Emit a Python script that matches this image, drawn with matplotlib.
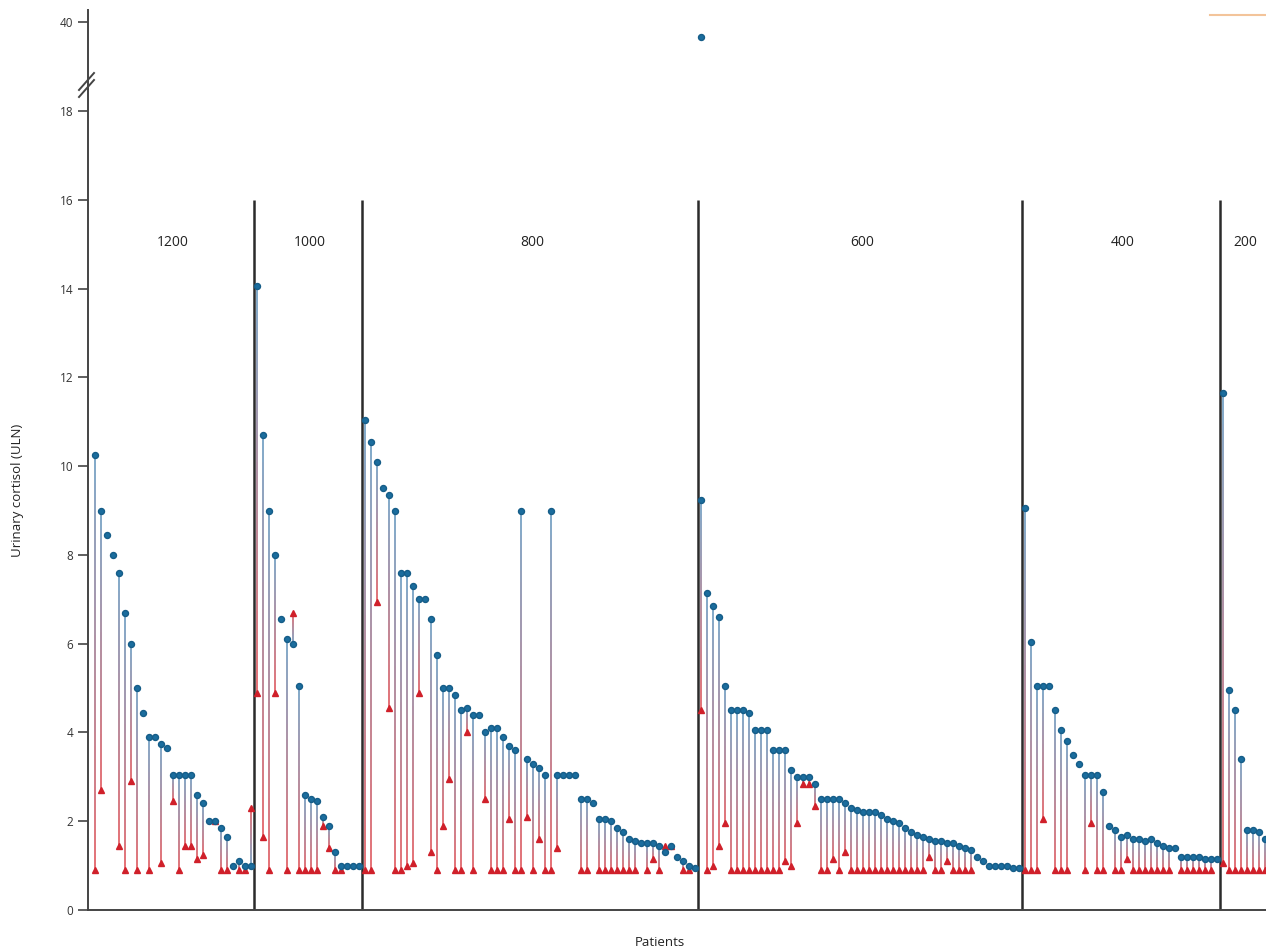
import numpy as np
import matplotlib
matplotlib.use("Agg")
import matplotlib.pyplot as plt
from matplotlib.collections import LineCollection
from matplotlib.colors import to_rgb
from matplotlib.lines import Line2D

nan = np.nan

# dose groups (left to right) and values per patient: baseline (blue) and follow-up (red)
groups = ["1200", "1000", "800", "600", "400", "200"]

base_1200 = [10.25, 9.0, 8.45, 8.0, 7.6, 6.7, 6.0, 5.0, 4.45, 3.9, 3.9, 3.75, 3.65, 3.05, 3.05, 3.05, 3.05,
             2.6, 2.4, 2.0, 2.0, 1.85, 1.65, 1.0, 1.1, 1.0, 1.0]
foll_1200 = [0.9, 2.7, nan, nan, 1.45, 0.9, 2.9, 0.9, nan, 0.9, nan, 1.05, nan, 2.45, 0.9, 1.45, 1.45,
             1.15, 1.25, nan, 2.0, 0.9, 0.9, nan, 0.9, 0.9, 2.3]

base_1000 = [14.05, 10.7, 9.0, 8.0, 6.55, 6.1, 6.0, 5.05, 2.6, 2.5, 2.45, 2.1, 1.9, 1.3, 1.0, 1.0, 1.0, 1.0]
foll_1000 = [4.9, 1.65, 0.9, 4.9, nan, 0.9, 6.7, 0.9, 0.9, 0.9, 0.9, 1.9, 1.4, 0.9, 0.9, nan, nan, nan]

base_800 = [11.05, 10.55, 10.1, 9.5, 9.35, 9.0, 7.6, 7.6, 7.3, 7.0, 7.0, 6.55, 5.75, 5.0, 5.0, 4.85,
            4.5, 4.55, 4.4, 4.4, 4.0, 4.1, 4.1, 3.9, 3.7, 3.6, 9.0, 3.4, 3.3, 3.2, 3.05, 9.0, 3.05,
            3.05, 3.05, 3.05, 2.5, 2.5, 2.4, 2.05, 2.05, 2.0, 1.85, 1.75, 1.6, 1.55, 1.5, 1.5, 1.5,
            1.45, 1.3, 1.45, 1.2, 1.1, 1.0, 0.95]
foll_800 = [0.9, 0.9, 6.95, nan, 4.55, 0.9, 0.9, 1.0, 1.05, 4.9, nan, 1.3, 0.9, 1.9, 2.95, 0.9,
            0.9, 4.0, 0.9, nan, 2.5, 0.9, 0.9, 0.9, 2.05, 0.9, 0.9, 2.1, 0.9, 1.6, 0.9, 0.9, 1.4,
            nan, nan, nan, 0.9, 0.9, nan, 0.9, 0.9, 0.9, 0.9, 0.9, 0.9, 0.9, nan, 0.9, 1.15,
            0.9, 1.45, 1.45, nan, 0.9, 0.9, nan]

base_600 = [9.25, 7.15, 6.85, 6.6, 5.05, 4.5, 4.5, 4.5, 4.45, 4.05, 4.05, 4.05, 3.6, 3.6, 3.6, 3.15,
            3.0, 3.0, 3.0, 2.85, 2.5, 2.5, 2.5, 2.5, 2.4, 2.3, 2.25, 2.2, 2.2, 2.2, 2.15, 2.05, 2.0,
            1.95, 1.85, 1.75, 1.7, 1.65, 1.6, 1.55, 1.55, 1.5, 1.5, 1.45, 1.4, 1.35, 1.2, 1.1, 1.0,
            1.0, 1.0, 1.0, 0.95, 0.95]
foll_600 = [4.5, 0.9, 1.0, 1.45, 1.95, 0.9, 0.9, 0.9, 0.9, 0.9, 0.9, 0.9, 0.9, 0.9, 1.1, 1.0,
            1.95, 2.85, 2.85, 2.35, 0.9, 0.9, 1.15, 0.9, 1.3, 0.9, 0.9, 0.9, 0.9, 0.9, 0.9, 0.9, 0.9,
            0.9, 0.9, 0.9, 0.9, 0.9, 1.2, 0.9, 0.9, 1.1, 0.9, 0.9, 0.9, 0.9, nan, nan, nan,
            nan, nan, nan, nan, nan]

base_400 = [9.05, 6.05, 5.05, 5.05, 5.05, 4.5, 4.05, 3.8, 3.5, 3.3, 3.05, 3.05, 3.05, 2.65, 1.9, 1.8,
            1.65, 1.7, 1.6, 1.6, 1.55, 1.6, 1.5, 1.45, 1.4, 1.4, 1.2, 1.2, 1.2, 1.2, 1.15, 1.15, 1.15]
foll_400 = [0.9, 0.9, 0.9, 2.05, nan, 0.9, 0.9, 0.9, nan, nan, 0.9, 1.95, 0.9, 0.9, nan, 0.9,
            0.9, 1.15, 0.9, 0.9, 0.9, 0.9, 0.9, 0.9, 0.9, nan, 0.9, 0.9, 0.9, 0.9, 0.9, 0.9, nan]

base_200 = [11.65, 4.95, 4.5, 3.4, 1.8, 1.8, 1.75, 1.6]
foll_200 = [1.05, 0.9, 0.9, 0.9, 0.9, 0.9, 0.9, 0.9]

# one patient far above the rest (first patient of the 600 group)
extreme_group = "600"
extreme_value = 39.5

base_all = [base_1200, base_1000, base_800, base_600, base_400, base_200]
foll_all = [foll_1200, foll_1000, foll_800, foll_600, foll_400, foll_200]

# ---- layout ----
W, H = 1266, 949
fig = plt.figure(figsize=(W / 100, H / 100), dpi=100)
plt.rcParams['font.family'] = ['Open Sans', 'DejaVu Sans']


def fx(x):
    return x / W


def fy(y):
    return 1 - y / H


ax = fig.add_axes([fx(88), fy(910), 1 - fx(88), fy(89) - fy(910)])
ax_top = fig.add_axes([fx(88), fy(89), 1 - fx(88), fy(10) - fy(89)], sharex=ax)

blue_mk = "#1b6d9e"
red_mk = "#d0202a"
blue_ln = np.array(to_rgb("#6a9cc2"))
red_ln = np.array(to_rgb("#e2585d"))

segs, cols = [], []
start = 0
bounds = []
centers = []
for b, f in zip(base_all, foll_all):
    b = np.array(b, dtype=float)
    f = np.array(f, dtype=float)
    x = np.arange(start, start + len(b))
    # gradient stems: blue at baseline end, red at follow-up end
    for xi, bi, fi in zip(x, b, f):
        if np.isnan(fi):
            continue
        t = np.linspace(0, 1, 31)
        ys = bi + (fi - bi) * t
        for k in range(30):
            segs.append([(xi, ys[k]), (xi, ys[k + 1])])
            c = blue_ln + (red_ln - blue_ln) * (t[k] + t[k + 1]) / 2
            cols.append(tuple(c))
    ax.plot(x, f, linestyle="none", marker="^", ms=5.0, color=red_mk, mec=red_mk, zorder=3)
    ax.plot(x, b, linestyle="none", marker="o", ms=4.3, color=blue_mk, mec="#165d88", zorder=4)
    bounds.append(start - 0.5)
    centers.append(start)
    start += len(b)

ax.add_collection(LineCollection(segs, colors=cols, linewidths=1.2, capstyle="butt", zorder=2))

# extreme baseline value on the upper (broken) axis
gi = groups.index(extreme_group)
ax_top.plot([centers[gi]], [extreme_value], linestyle="none", marker="o", ms=4.3,
            color=blue_mk, mec="#165d88")

x_left = -1.2
x_right = x_left + (W - 88) / 6.0
ax.set_xlim(x_left, x_right)
ax.set_ylim(0, 18.5)
ax_top.set_ylim(37.77, 40.4)

# group dividers and labels
for bx in bounds[1:]:
    ax.vlines(bx, 0, 16, color="#2b2b2b", lw=1.8, zorder=1)
edges = bounds[1:] + [x_right]
lefts = [x_left] + bounds[1:]
for name, lo, hi in zip(groups, lefts, edges):
    ax.text((lo + hi) / 2 + 0.3, 15.05, name, ha="center", va="center", fontsize=10, color="#222")

for a in (ax, ax_top):
    a.spines["top"].set_visible(False)
    a.spines["right"].set_visible(False)
    a.spines["left"].set_color("#444")
    a.spines["left"].set_linewidth(1.4)
    a.tick_params(axis="y", length=7, width=1.2, color="#444", labelsize=8.5, labelcolor="#333")
    a.patch.set_alpha(0)

ax.spines["bottom"].set_color("#444")
ax.spines["bottom"].set_linewidth(1.4)
ax.set_xticks([])
ax.set_yticks(np.arange(0, 19, 2))
ax_top.spines["bottom"].set_visible(False)
ax_top.tick_params(axis="x", bottom=False, labelbottom=False)
ax_top.set_yticks([40])

# break marks on the y axis
for dy in (0, 7):
    fig.add_artist(Line2D([fx(79), fx(94)], [fy(97 - dy), fy(80 - dy)], color="#444", lw=1.4))

# small orange fragment at top right of the original
fig.add_artist(Line2D([fx(1210), fx(1266)], [fy(15), fy(15)], color="#f3c49a", lw=1.5))

fig.text(fx(18), fy(490), "Urinary cortisol (ULN)", rotation=90, ha="center", va="center",
         fontsize=9.5, color="#222")
fig.text(fx(660), fy(943), "Patients", ha="center", va="center", fontsize=9.5, color="#222")

fig.savefig("out.png", dpi=100)
